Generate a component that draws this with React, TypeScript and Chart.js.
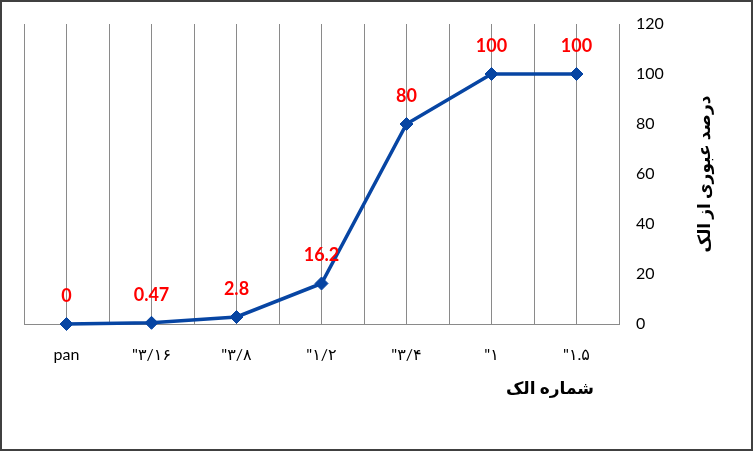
import React, { useEffect, useRef } from "react";
import { Chart, registerables } from "chart.js";

Chart.register(...registerables);

const categories: string[] = ["pan", "\"۳/۱۶", "\"۳/۸", "\"۱/۲", "\"۳/۴", "\"۱", "\"۱.۵"];
const passingPercent: number[] = [0, 0.47, 2.8, 16.2, 80, 100, 100];
const yTicks: number[] = [0, 20, 40, 60, 80, 100, 120];
const xTitle = "شماره الک";
const yTitle = "درصد عبوری از الک";

const FONT = "Lato, 'DejaVu Sans', sans-serif";
const LINE_BLUE = "#0745a3";
const GRID = "#8a8a8a";

const frameAndLabels = {
  id: "frameAndLabels",
  beforeDraw(chart: any) {
    const { ctx, width, height } = chart;
    ctx.save();
    ctx.fillStyle = "#ffffff";
    ctx.fillRect(0, 0, width, height);
    ctx.strokeStyle = "#404040";
    ctx.lineWidth = 2;
    ctx.strokeRect(1, 1, width - 2, height - 2);
    ctx.restore();
  },
  afterDatasetsDraw(chart: any) {
    const { ctx, chartArea } = chart;
    const meta = chart.getDatasetMeta(0);
    ctx.save();
    ctx.fillStyle = "#ff0000";
    ctx.font = `bold 18px ${FONT}`;
    ctx.textAlign = "center";
    ctx.textBaseline = "middle";
    meta.data.forEach((pt: any, i: number) => {
      ctx.fillText(String(passingPercent[i]), pt.x, pt.y - 28);
    });
    // x-axis title
    ctx.fillStyle = "#000000";
    ctx.font = `bold 17px ${FONT}`;
    ctx.textAlign = "right";
    ctx.fillText(xTitle, chartArea.right - 25, chartArea.bottom + 65);
    // y-axis title (rotated counter-clockwise)
    ctx.translate(chartArea.right + 86, (chartArea.top + chartArea.bottom) / 2);
    ctx.rotate(-Math.PI / 2);
    ctx.textAlign = "center";
    ctx.fillText(yTitle, 0, 0);
    ctx.restore();
  },
};

export default function App() {
  const canvasRef = useRef<HTMLCanvasElement | null>(null);

  useEffect(() => {
    if (!canvasRef.current) return;
    const chart = new Chart(canvasRef.current, {
      type: "line",
      data: {
        labels: categories,
        datasets: [
          {
            data: passingPercent,
            borderColor: LINE_BLUE,
            backgroundColor: LINE_BLUE,
            borderWidth: 3.5,
            pointStyle: "rectRot",
            pointRadius: 6.5,
            pointBorderWidth: 1,
            pointBackgroundColor: LINE_BLUE,
            pointBorderColor: LINE_BLUE,
            tension: 0,
            clip: false as any,
          },
        ],
      },
      options: {
        animation: false,
        responsive: true,
        maintainAspectRatio: false,
        layout: { padding: { left: 24, top: 24, right: 0, bottom: 0 } },
        plugins: {
          legend: { display: false },
          tooltip: { enabled: false },
        },
        scales: {
          x: {
            type: "category",
            position: "bottom",
            offset: true,
            grid: { display: true, color: GRID, lineWidth: 1, drawTicks: false, offset: false },
            border: { display: true, color: GRID, width: 1 },
            ticks: {
              color: "#000000",
              font: { family: FONT, size: 16 },
              padding: 21,
              maxRotation: 0,
              autoSkip: false,
            },
            afterFit: (s: any) => {
              s.height = 127;
              s.paddingLeft = 0;
              s.paddingRight = 0;
            },
          },
          x2: {
            type: "category",
            position: "bottom",
            offset: true,
            grid: { display: true, color: GRID, lineWidth: 1, drawTicks: false, offset: true },
            border: { display: false },
            ticks: { display: false },
            afterFit: (s: any) => {
              s.height = 0;
              s.paddingLeft = 0;
              s.paddingRight = 0;
            },
          },
          y: {
            type: "linear",
            position: "right",
            min: 0,
            max: 120,
            afterBuildTicks: (s: any) => {
              s.ticks = yTicks.map((v) => ({ value: v }));
            },
            grid: { display: false, drawTicks: false },
            border: { display: true, color: GRID, width: 1 },
            ticks: {
              color: "#000000",
              font: { family: FONT, size: 16 },
              padding: 17,
            },
            afterFit: (s: any) => {
              s.width = 134;
              s.paddingTop = 0;
              s.paddingBottom = 0;
            },
          },
        },
      },
      plugins: [frameAndLabels],
    });
    return () => chart.destroy();
  }, []);

  return (
    <div style={{ position: "fixed", left: 0, top: 0, width: 753, height: 451 }}>
      <canvas ref={canvasRef} />
    </div>
  );
}
